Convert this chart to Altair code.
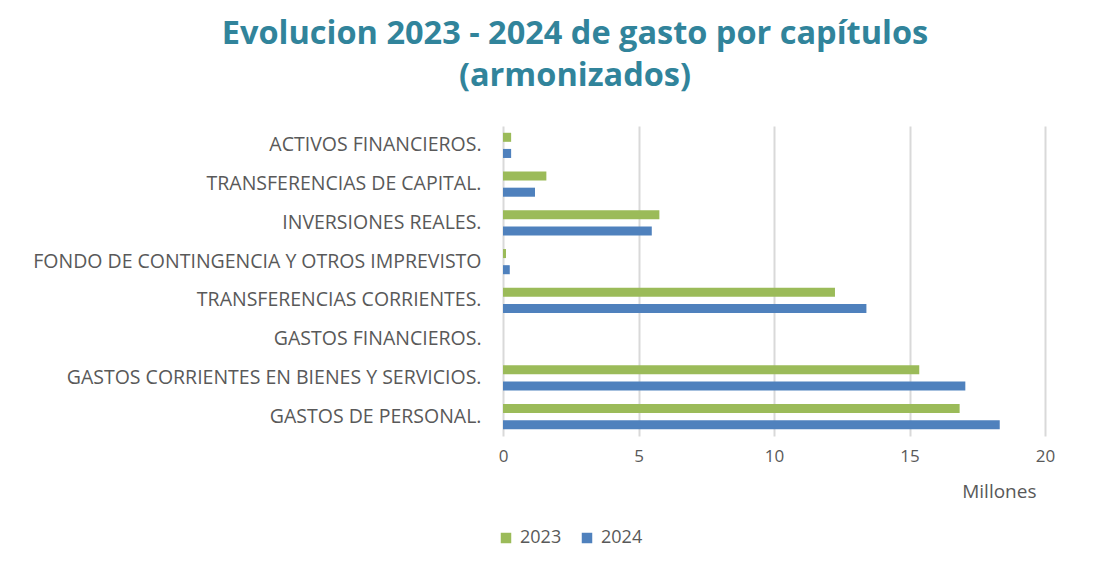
import altair as alt
import pandas as pd

categories = [
    "ACTIVOS FINANCIEROS.",
    "TRANSFERENCIAS DE CAPITAL.",
    "INVERSIONES REALES.",
    "FONDO DE CONTINGENCIA Y OTROS IMPREVISTO",
    "TRANSFERENCIAS CORRIENTES.",
    "GASTOS FINANCIEROS.",
    "GASTOS CORRIENTES EN BIENES Y SERVICIOS.",
    "GASTOS DE PERSONAL.",
]
values_2023 = [0.30, 1.60, 5.77, 0.11, 12.25, 0.0, 15.36, 16.85]
values_2024 = [0.30, 1.18, 5.49, 0.25, 13.41, 0.0, 17.06, 18.33]
years = ["2023", "2024"]
colors = ["#9BBB59", "#4F81BD"]

rows = []
for c, a, b in zip(categories, values_2023, values_2024):
    rows.append({"cat": c, "year": years[0], "value": a})
    rows.append({"cat": c, "year": years[1], "value": b})
df = pd.DataFrame(rows)

FONT = "Open Sans"
GREY = "#595959"

chart = (
    alt.Chart(df)
    .mark_bar()
    .encode(
        x=alt.X(
            "value:Q",
            scale=alt.Scale(domain=[0, 20], nice=False),
            axis=alt.Axis(
                values=[0, 5, 10, 15, 20],
                title="Millones",
                titleAnchor="end",
                titleAlign="right",
                titleBaseline="middle",
                titleX=533,
                titleY=55,
                titleFont=FONT,
                titleFontSize=19,
                titleFontWeight="normal",
                titleColor=GREY,
                labelFont=FONT,
                labelFontSize=17,
                labelColor=GREY,
                labelPadding=12,
                labelFlush=False,
                domain=False,
                ticks=False,
                grid=True,
                gridColor="#d9d9d9",
                gridWidth=2,
            ),
        ),
        y=alt.Y(
            "cat:N",
            sort=categories,
            scale=alt.Scale(paddingInner=0.35, paddingOuter=0.175),
            axis=alt.Axis(
                title=None,
                labelFont=FONT,
                labelFontSize=19.5,
                labelColor=GREY,
                labelPadding=22,
                labelLimit=600,
                domain=False,
                ticks=False,
                grid=False,
            ),
        ),
        yOffset=alt.YOffset("year:N", sort=years, scale=alt.Scale(paddingInner=0.44)),
        color=alt.Color(
            "year:N",
            scale=alt.Scale(domain=years, range=colors),
            legend=alt.Legend(
                title=None,
                orient="none",
                direction="horizontal",
                legendX=-6,
                legendY=403,
                symbolType="square",
                symbolSize=110,
                symbolStrokeWidth=0,
                labelFont=FONT,
                labelFontSize=18,
                labelColor=GREY,
                labelLimit=200,
                columnPadding=16,
                labelOffset=5,
            ),
        ),
    )
    .properties(
        width=542,
        height=310,
        autosize=alt.AutoSizeParams(type="none"),
        padding={"left": 495, "top": 118, "right": 60, "bottom": 117},
        title=alt.TitleParams(
            text=["Evolucion 2023 - 2024 de gasto por capítulos", "(armonizados)"],
            anchor="middle",
            dx=-199,
            offset=34,
            font=FONT,
            fontSize=32.5,
            fontWeight="bold",
            color="#31849B",
            lineHeight=42,
        ),
    )
    .configure(background="white")
    .configure_view(strokeWidth=0, stroke=None)
)

chart.save("out.html", embed_options={"renderer": "svg", "actions": False})
